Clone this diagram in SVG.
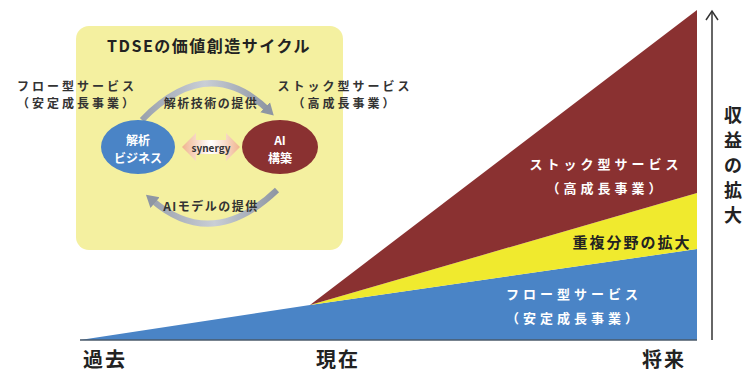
<svg xmlns="http://www.w3.org/2000/svg" width="744" height="376" viewBox="0 0 744 376">
<style>
text{font-family:"Noto Sans CJK JP","Noto Sans",sans-serif;font-weight:bold;text-anchor:middle;dominant-baseline:central}
.w{fill:#fff;font-size:13px;letter-spacing:4px}
.d{fill:#333;font-size:12px;letter-spacing:3px}
.ax{fill:#222;font-size:20px;letter-spacing:2px}
.v{fill:#222;font-size:18px}
.s{fill:#333;font-size:12px;letter-spacing:1.5px}
.c{fill:#fff;font-size:12px}
.arc{fill:none;stroke:url(#ag);stroke-width:6}
</style>
<defs>
<linearGradient id="ag" x1="0" y1="0" x2="1" y2="0"><stop offset="0" stop-color="#9aa1ad"/><stop offset="0.5" stop-color="#c9ced6"/><stop offset="1" stop-color="#8e96a3"/></linearGradient>
<linearGradient id="sg" x1="0" y1="0" x2="1" y2="0"><stop offset="0" stop-color="#f0b48f"/><stop offset="0.5" stop-color="#ffffff"/><stop offset="1" stop-color="#f0b48f"/></linearGradient>
<marker id="ah" markerUnits="userSpaceOnUse" markerWidth="16" markerHeight="16" refX="4" refY="8" orient="auto"><path d="M0,1 L12,8 L0,15 Z" fill="#8e96a3"/></marker>
</defs>
<g id="chart">
<polygon points="80,340 310,305 697,249 697,340" fill="#4a84c6"/>
<polygon points="310,305 697,193 697,249" fill="#f0ea2e"/>
<polygon points="310,305 697,10 697,193" fill="#8a3131"/>
<line x1="80" y1="340" x2="697" y2="340" stroke="#4a5a6a" stroke-width="1.5"/>
<text class="w" x="606" y="163">ストック型サービス</text>
<text class="w" x="606" y="187">（高成長事業）</text>
<text x="632" y="241" fill="#222" font-size="15" letter-spacing="2">重複分野の拡大</text>
<text class="w" x="574" y="293">フロー型サービス</text>
<text class="w" x="574" y="317">（安定成長事業）</text>
</g>
<g id="axis">
<line x1="712" y1="12" x2="712" y2="340" stroke="#333" stroke-width="1.5"/>
<polyline points="706,20 712,11 718,20" fill="none" stroke="#333" stroke-width="1.5"/>
<text class="v" x="733" y="114">収</text>
<text class="v" x="733" y="139">益</text>
<text class="v" x="733" y="164">の</text>
<text class="v" x="733" y="189">拡</text>
<text class="v" x="733" y="214">大</text>
<text class="ax" x="105" y="358">過去</text>
<text class="ax" x="338" y="358">現在</text>
<text class="ax" x="664" y="358">将来</text>
</g>
<g id="cycle">
<rect x="76" y="26" width="267" height="224" rx="13" fill="#f4f0a0"/>
<text x="209" y="45" fill="#222" font-size="16" letter-spacing="1.5">TDSEの価値創造サイクル</text>
<text class="d" x="77" y="85">フロー型サービス</text>
<text class="d" x="77" y="102">（安定成長事業）</text>
<text class="d" x="345" y="85">ストック型サービス</text>
<text class="d" x="345" y="102">（高成長事業）</text>
</g>
<g id="connectors">
<path class="arc" d="M142,120 Q208,52 268,110" marker-end="url(#ah)"/>
<path class="arc" d="M277,190 Q212,252 152,200" marker-end="url(#ah)"/>
<polygon points="182,147 196,133 196,140 226,140 226,133 240,147 226,161 226,154 196,154 196,161" fill="url(#sg)"/>
<text x="211" y="147" fill="#333" font-size="10" font-weight="normal">synergy</text>
<text class="s" x="211" y="102">解析技術の提供</text>
<text class="s" x="211" y="205">AIモデルの提供</text>
</g>
<g id="analysis">
<ellipse cx="138" cy="147" rx="37" ry="27" fill="#4a84c6"/>
<text class="c" x="138" y="139">解析</text>
<text class="c" x="138" y="157">ビジネス</text>
</g>
<g id="ai">
<ellipse cx="280" cy="147" rx="38" ry="27" fill="#8a3131"/>
<text class="c" x="280" y="139">AI</text>
<text class="c" x="280" y="157">構築</text>
</g>
</svg>
